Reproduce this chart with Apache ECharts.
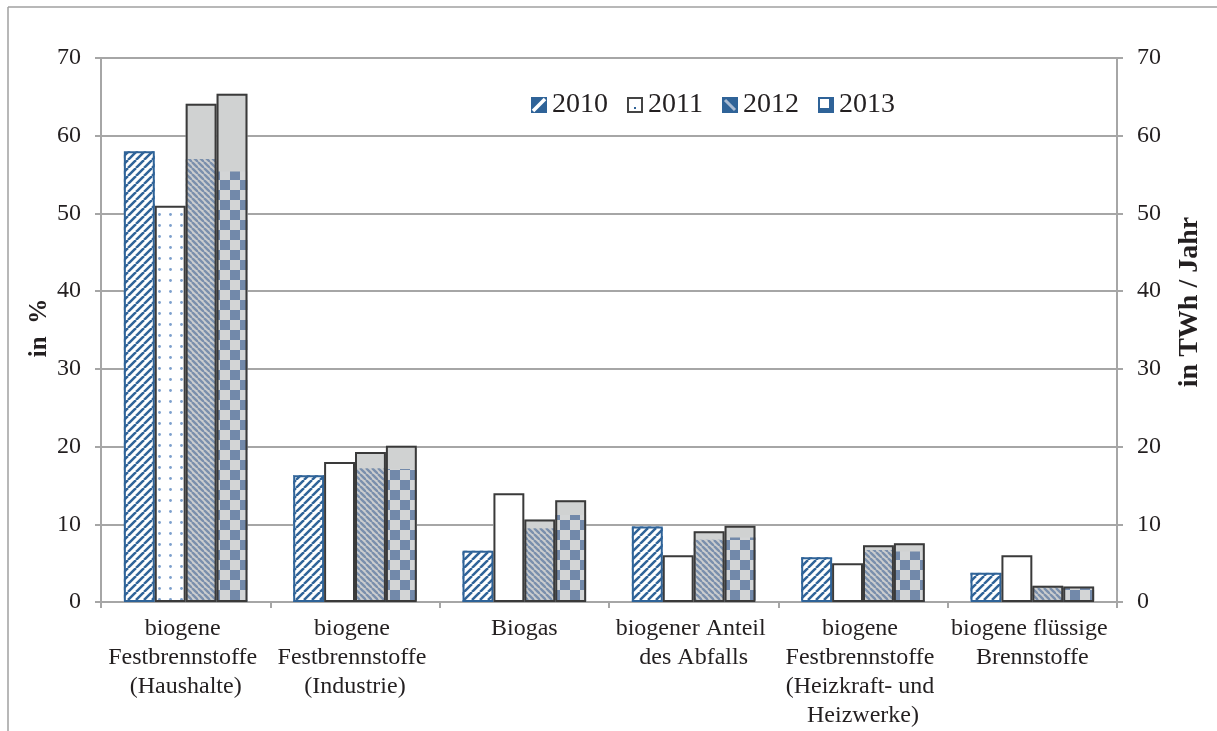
<!DOCTYPE html>
<html>
<head>
<meta charset="utf-8">
<script src="https://cdn.jsdelivr.net/npm/echarts@6/dist/echarts.min.js"></script>
<style>
  html, body { margin: 0; padding: 0; background: #ffffff; }
  #chart { width: 1217px; height: 731px; }
</style>
</head>
<body>
<div id="chart"></div>
<script>
// Categories of biogenic heat sources
const categories = [
  'biogene Festbrennstoffe (Haushalte)',
  'biogene Festbrennstoffe (Industrie)',
  'Biogas',
  'biogener Anteil des Abfalls',
  'biogene Festbrennstoffe (Heizkraft- und Heizwerke)',
  'biogene flüssige Brennstoffe'
];
const years = ['2010', '2011', '2012', '2013'];

// Share in percent (left axis), one array per year
const share2010 = [58.0, 16.3, 6.6, 9.7, 5.75, 3.75];
const share2011 = [51.0, 18.0, 14.0, 6.0, 5.0, 6.0];
const share2012 = [57.0, 17.2, 9.5, 8.0, 6.7, 1.9];
const share2013 = [55.4, 17.1, 11.2, 8.3, 6.5, 1.8];

// Energy in TWh per year (right axis), one array per year
const energy2010 = [58.0, 16.3, 6.6, 9.7, 5.75, 3.75];
const energy2011 = [51.0, 18.0, 14.0, 6.0, 5.0, 6.0];
const energy2012 = [64.1, 19.3, 10.6, 9.1, 7.3, 2.1];
const energy2013 = [65.4, 20.1, 13.1, 9.8, 7.55, 2.0];

// Value axis range shared by both axes
const axisMin = 0;
const axisMax = 70;
const axisStep = 10;

const shares = [share2010, share2011, share2012, share2013];
const energies = [energy2010, energy2011, energy2012, energy2013];

const FONT = '"Liberation Serif", "Times New Roman", serif';
const TEXT = '#231f20';
const GRID_GREY = '#a6a6a6';

// ---- fill patterns ----
function makeCanvas(w, h) {
  const c = document.createElement('canvas');
  c.width = w; c.height = h;
  return c;
}
function diagonal(size, bg, fg, lw, forward) {
  const c = makeCanvas(size, size);
  const g = c.getContext('2d');
  g.fillStyle = bg; g.fillRect(0, 0, size, size);
  g.strokeStyle = fg; g.lineWidth = lw;
  for (let k = -1; k <= 1; k++) {
    g.beginPath();
    if (forward) { g.moveTo(k * size, size); g.lineTo(k * size + size, 0); }
    else { g.moveTo(k * size, 0); g.lineTo(k * size + size, size); }
    g.stroke();
  }
  return c;
}
function checker(cell, a, b) {
  const c = makeCanvas(cell * 2, cell * 2);
  const g = c.getContext('2d');
  g.fillStyle = b; g.fillRect(0, 0, cell * 2, cell * 2);
  g.fillStyle = a;
  g.fillRect(0, 0, cell, cell);
  g.fillRect(cell, cell, cell, cell);
  return c;
}
function dots(step, color) {
  const c = makeCanvas(step, step);
  const g = c.getContext('2d');
  g.fillStyle = '#ffffff'; g.fillRect(0, 0, step, step);
  g.fillStyle = color;
  g.beginPath(); g.arc(step / 2, step / 2, 1.4, 0, Math.PI * 2); g.fill();
  return c;
}

const pat2010 = diagonal(8, '#ffffff', '#2f6398', 2.5, true);
const pat2011 = dots(11, '#7c9fcc');
const pat2012 = diagonal(6, '#cbcdce', '#7a8fac', 2.4, false);
const pat2013 = checker(10, '#7289aa', '#d3d5d6');

const patternFill = [
  { image: pat2010, repeat: 'repeat' },
  '#ffffff',
  { image: pat2012, repeat: 'repeat' },
  { image: pat2013, repeat: 'repeat' }
];
const dottedFill = { image: pat2011, repeat: 'repeat' };
const capFill = ['rgba(0,0,0,0)', '#ffffff', '#d0d2d2', '#d0d2d2'];
const outlineColor = ['#2f6398', '#3a3a3a', '#3a3a3a', '#3a3a3a'];

// ---- legend swatches ----
function swatch(kind) {
  const c = makeCanvas(16, 16);
  const g = c.getContext('2d');
  if (kind === 0) {
    g.fillStyle = '#2f6398'; g.fillRect(0, 0, 16, 16);
    g.strokeStyle = '#ffffff'; g.lineWidth = 3.5;
    g.beginPath(); g.moveTo(2, 14); g.lineTo(14, 2); g.stroke();
  } else if (kind === 1) {
    g.fillStyle = '#ffffff'; g.fillRect(0, 0, 16, 16);
    g.strokeStyle = '#444444'; g.lineWidth = 2;
    g.strokeRect(1, 1, 14, 14);
    g.fillStyle = '#2f6398'; g.fillRect(7, 10, 2, 2);
  } else if (kind === 2) {
    g.fillStyle = '#2f6398'; g.fillRect(0, 0, 16, 16);
    g.strokeStyle = '#a9bbd3'; g.lineWidth = 3;
    g.beginPath(); g.moveTo(3, 3); g.lineTo(13, 13); g.stroke();
  } else {
    g.fillStyle = '#2f6398'; g.fillRect(0, 0, 16, 16);
    g.fillStyle = '#ffffff'; g.fillRect(2, 2, 9, 9);
  }
  return 'image://' + c.toDataURL();
}

// ---- series: patterned share bars, TWh caps behind, TWh outlines in front ----
const series = [];
years.forEach((y, i) => {
  series.push({
    name: y, type: 'bar', xAxisIndex: 0, yAxisIndex: 0,
    barGap: '0%', barCategoryGap: '27%', z: 3,
    itemStyle: { color: patternFill[i], borderWidth: 0 },
    data: shares[i].map((v, j) => (i === 1 && j === 0) ? { value: v, itemStyle: { color: dottedFill } } : v)
  });
});
years.forEach((y, i) => {
  series.push({
    name: y, type: 'bar', xAxisIndex: 1, yAxisIndex: 1,
    barGap: '0%', barCategoryGap: '27%', z: 2,
    itemStyle: { color: capFill[i], borderWidth: 0 },
    data: energies[i]
  });
});
years.forEach((y, i) => {
  series.push({
    name: y, type: 'bar', xAxisIndex: 2, yAxisIndex: 1,
    barGap: '0%', barCategoryGap: '27%', z: 4,
    itemStyle: { color: 'rgba(0,0,0,0)', borderColor: outlineColor[i], borderWidth: 2 },
    data: energies[i]
  });
});

const hiddenX = { type: 'category', data: categories, show: false };

const option = {
  animation: false,
  backgroundColor: '#ffffff',
  grid: { left: 101, right: 100, top: 58, bottom: 129, containLabel: false },
  legend: {
    left: 526, top: 86,
    itemWidth: 16, itemHeight: 16, itemGap: 19,
    textStyle: { fontFamily: FONT, fontSize: 28, color: TEXT },
    data: years.map((y, i) => ({ name: y, icon: swatch(i) }))
  },
  xAxis: [
    {
      type: 'category', data: categories,
      axisLine: { show: true, lineStyle: { color: GRID_GREY, width: 2 } },
      axisTick: { show: true, length: 6, lineStyle: { color: GRID_GREY, width: 2 } },
      axisLabel: {
        interval: 0, margin: 12, fontFamily: FONT, fontSize: 24, lineHeight: 29,
        color: TEXT, width: 178, overflow: 'break', align: 'center'
      },
      splitLine: { show: false }
    },
    hiddenX, hiddenX
  ],
  yAxis: [
    {
      type: 'value', position: 'left', min: axisMin, max: axisMax, interval: axisStep,
      axisLine: { show: true, lineStyle: { color: GRID_GREY, width: 2 } },
      axisTick: { show: true, length: 6, lineStyle: { color: GRID_GREY, width: 2 } },
      axisLabel: { margin: 20, fontFamily: FONT, fontSize: 24, color: TEXT },
      splitLine: { show: true, lineStyle: { color: GRID_GREY, width: 2 } }
    },
    {
      type: 'value', position: 'right', min: axisMin, max: axisMax, interval: axisStep,
      axisLine: { show: true, lineStyle: { color: GRID_GREY, width: 2 } },
      axisTick: { show: true, length: 6, lineStyle: { color: GRID_GREY, width: 2 } },
      axisLabel: { margin: 20, fontFamily: FONT, fontSize: 24, color: TEXT },
      splitLine: { show: false }
    }
  ],
  series: series,
  graphic: [
    { type: 'line', shape: { x1: 8, y1: 7, x2: 1217, y2: 7 }, style: { stroke: '#a0a0a0', lineWidth: 1.5 }, silent: true },
    { type: 'line', shape: { x1: 8, y1: 7, x2: 8, y2: 731 }, style: { stroke: '#a0a0a0', lineWidth: 1.5 }, silent: true },
    {
      type: 'text', x: 40, y: 328, rotation: Math.PI / 2,
      style: { text: 'in  %', font: 'bold 25px ' + FONT, fill: TEXT, align: 'center', verticalAlign: 'middle' }
    },
    {
      type: 'text', x: 1190, y: 302, rotation: Math.PI / 2,
      style: { text: 'in TWh / Jahr', font: 'bold 28px ' + FONT, fill: TEXT, align: 'center', verticalAlign: 'middle' }
    }
  ]
};

const chart = echarts.init(document.getElementById('chart'), null, { renderer: 'canvas' });
chart.setOption(option);
</script>
</body>
</html>
